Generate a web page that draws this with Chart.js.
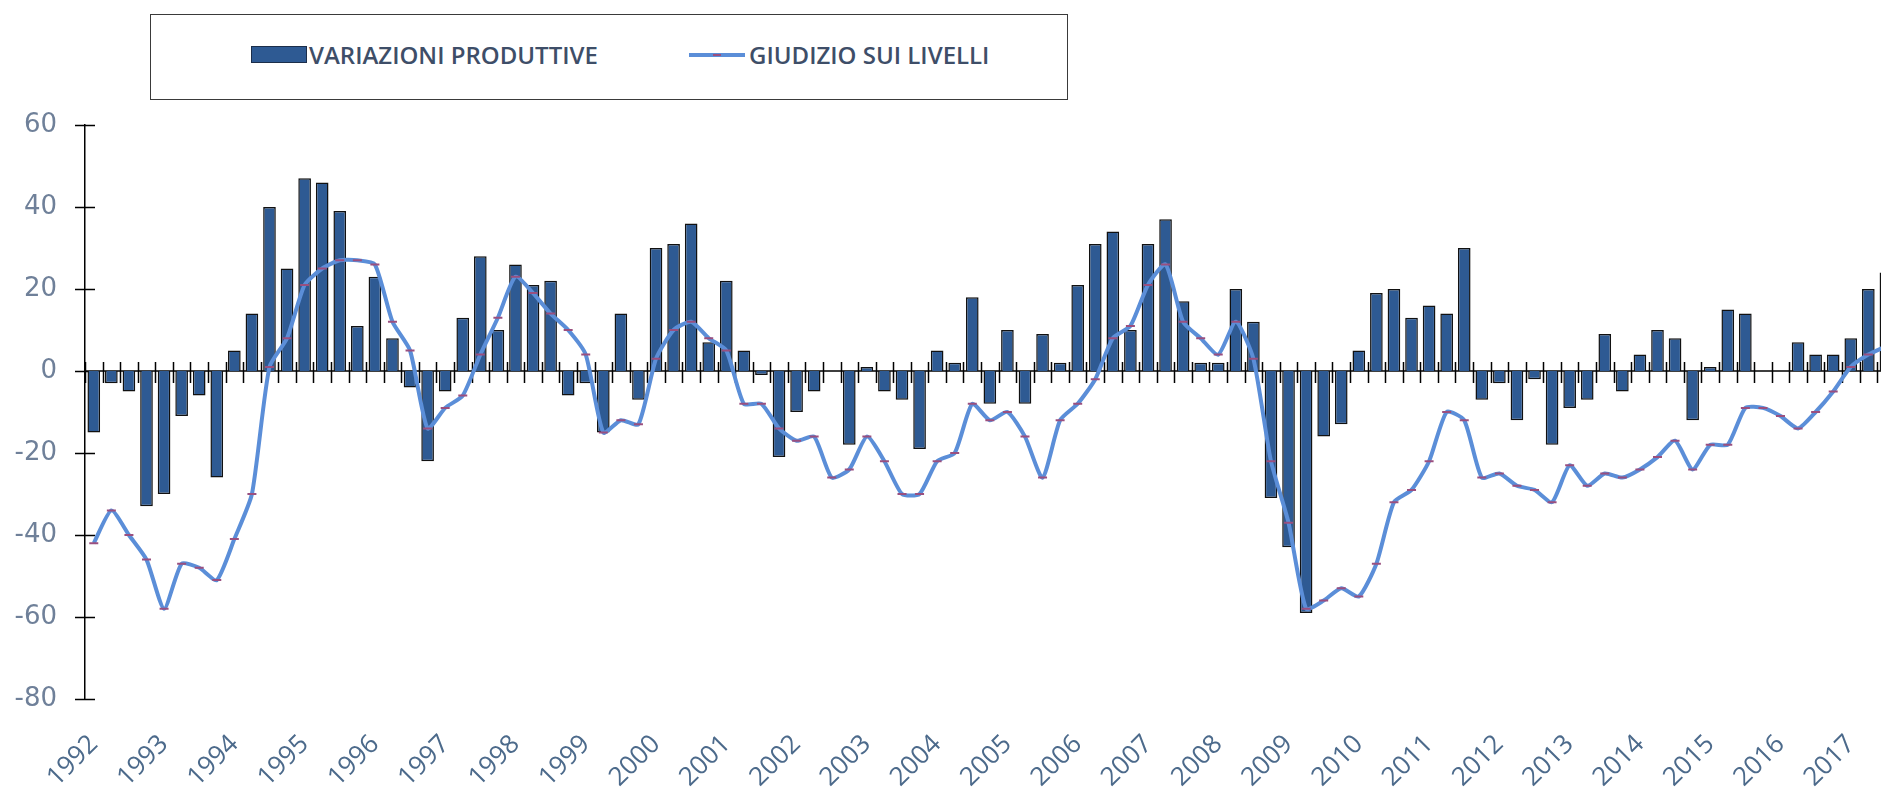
<!DOCTYPE html>
<html>
<head>
<meta charset="utf-8">
<script src="https://cdn.jsdelivr.net/npm/chart.js"></script>
<style>
  html, body { margin: 0; padding: 0; background: #fff; overflow: hidden; }
  #wrap { position: relative; width: 1938px; height: 789px; }
  #legend {
    position: absolute; left: 150px; top: 14px; width: 916px; height: 84px;
    border: 1.5px solid #3a3a3a; background: #fff;
    font-family: 'Open Sans', sans-serif; font-weight: 600; font-size: 24px; color: #3e4e68;
  }
  #legend .sw-bar { position: absolute; left: 100px; top: 31px; width: 54px; height: 15px;
    background: #2e5a93; border: 1px solid #1c2e4a; }
  #legend .sw-line { position: absolute; left: 538px; top: 38px; width: 56px; height: 4px; background: #5b8ed8; }
  #legend .sw-line i { position: absolute; left: 24px; top: 1px; width: 8px; height: 2px; background: #9a4f7f; }
  #legend span { position: absolute; top: 22px; line-height: 36px; white-space: nowrap; }
</style>
</head>
<body>
<div id="wrap">
  <canvas id="c" width="1938" height="789"></canvas>
  <div id="legend">
    <div class="sw-bar"></div><span style="left:158px">VARIAZIONI PRODUTTIVE</span>
    <div class="sw-line"><i></i></div><span style="left:598px">GIUDIZIO SUI LIVELLI</span>
  </div>
</div>
<script>
const years = [1992, 1993, 1994, 1995, 1996, 1997, 1998, 1999, 2000, 2001, 2002, 2003, 2004,
  2005, 2006, 2007, 2008, 2009, 2010, 2011, 2012, 2013, 2014, 2015, 2016, 2017];
const quarters = ['I', 'II', 'III', 'IV'];

// variazioni produttive (barre), trimestrali dal 1992 I
const variazioni = [
  -15, -3, -5, -33, -30, -11, -6, -26, 5, 14, 40, 25, 47, 46, 39, 11,
  23, 8, -4, -22, -5, 13, 28, 10, 26, 21, 22, -6, -3, -15, 14, -7,
  30, 31, 36, 7, 22, 5, -1, -21, -10, -5, 0, -18, 1, -5, -7, -19,
  5, 2, 18, -8, 10, -8, 9, 2, 21, 31, 34, 10, 31, 37, 17, 2,
  2, 20, 12, -31, -43, -59, -16, -13, 5, 19, 20, 13, 16, 14, 30, -7,
  -3, -12, -2, -18, -9, -7, 9, -5, 4, 10, 8, -12, 1, 15, 14, 0,
  0, 7, 4, 4, 8, 20, 24
];

// giudizio sui livelli (linea)
const giudizio = [
  -42, -34, -40, -46, -58, -47, -48, -51, -41, -30, 1, 8, 21, 25, 27, 27,
  26, 12, 5, -14, -9, -6, 4, 13, 23, 19, 14, 10, 4, -15, -12, -13,
  3, 10, 12, 8, 5, -8, -8, -14, -17, -16, -26, -24, -16, -22, -30, -30,
  -22, -20, -8, -12, -10, -16, -26, -12, -8, -2, 8, 11, 21, 26, 12, 8,
  4, 12, 3, -22, -37, -58, -56, -53, -55, -47, -32, -29, -22, -10, -12, -26,
  -25, -28, -29, -32, -23, -28, -25, -26, -24, -21, -17, -24, -18, -18, -9, -9,
  -11, -14, -10, -5, 1, 4, 6
];

const yTicks = [60, 40, 20, 0, -20, -40, -60, -80];

const labels = [];
years.forEach(y => quarters.forEach(q => labels.push(y + ' ' + q)));
labels.length = variazioni.length;

// asse dello zero e asse y con tacche incrociate, come nel grafico originale
const crossAxes = {
  id: 'crossAxes',
  beforeDatasetsDraw(chart) {
    const { ctx, chartArea, scales: { x, y } } = chart;
    const y0 = y.getPixelForValue(0);
    ctx.save();
    ctx.strokeStyle = '#000';
    ctx.lineWidth = 1.5;
    ctx.beginPath();
    ctx.moveTo(chartArea.left, y0);
    ctx.lineTo(chartArea.right, y0);
    for (let i = 0; i <= labels.length; i++) {
      const px = Math.round(x.getPixelForValue(i - 0.5)) + 0.5;
      ctx.moveTo(px, y0 - 9);
      ctx.lineTo(px, y0 + 12);
    }
    yTicks.forEach(v => {
      const py = Math.round(y.getPixelForValue(v)) + 0.5;
      ctx.moveTo(chartArea.left - 10, py);
      ctx.lineTo(chartArea.left + 10, py);
    });
    ctx.stroke();
    ctx.restore();
  }
};

new Chart(document.getElementById('c'), {
  data: {
    labels: labels,
    datasets: [
      {
        type: 'line',
        label: 'GIUDIZIO SUI LIVELLI',
        data: giudizio,
        order: 1,
        borderColor: '#5b8ed8',
        borderWidth: 4,
        tension: 0.2,
        pointStyle: 'line',
        pointRadius: 4.5,
        pointBorderColor: '#9a4f7f',
        pointBorderWidth: 2,
        pointBackgroundColor: '#9a4f7f'
      },
      {
        type: 'bar',
        label: 'VARIAZIONI PRODUTTIVE',
        data: variazioni,
        order: 2,
        backgroundColor: '#2e5a93',
        borderColor: '#111',
        borderWidth: 1.5,
        categoryPercentage: 1,
        barPercentage: 0.72
      }
    ]
  },
  options: {
    responsive: false,
    animation: false,
    devicePixelRatio: 1,
    layout: { padding: { top: 125, left: 0, right: 0, bottom: 0 } },
    plugins: {
      legend: { display: false },
      tooltip: { enabled: false }
    },
    scales: {
      x: {
        grid: { display: false, drawTicks: false },
        border: { display: false },
        ticks: {
          autoSkip: false,
          minRotation: 45,
          maxRotation: 45,
          padding: 30,
          color: '#4c6a8b',
          font: { family: 'Open Sans', size: 26 },
          callback: (v, i) => (i % 4 === 0 ? String(years[i / 4]) : '')
        },
        afterFit: s => { s.height = 90; }
      },
      y: {
        min: -80,
        max: 60,
        grid: { display: false, drawTicks: false },
        border: { display: true, color: '#000', width: 1.5 },
        ticks: {
          stepSize: 20,
          padding: 28,
          color: '#6f8099',
          font: { family: 'DejaVu Sans', size: 26 }
        },
        afterFit: s => { s.width = 85; }
      }
    }
  },
  plugins: [crossAxes]
});
</script>
</body>
</html>
